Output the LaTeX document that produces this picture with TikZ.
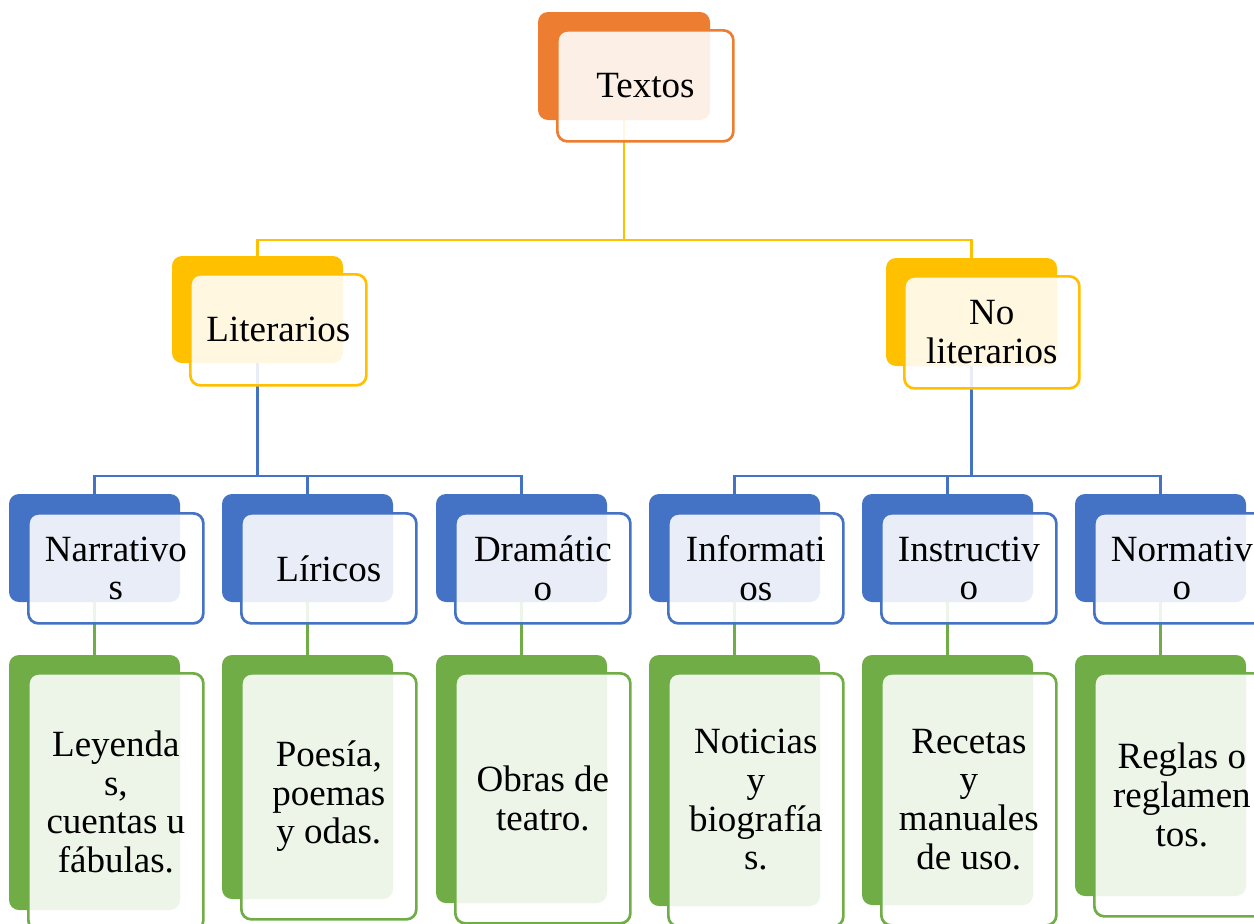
\documentclass[tikz,border=0pt]{standalone}
\usepackage{fontspec}
\setmainfont{Liberation Serif}
\usetikzlibrary{backgrounds}
\definecolor{cOr}{HTML}{ED7D31}
\definecolor{cYe}{HTML}{FFC000}
\definecolor{cBl}{HTML}{4472C4}
\definecolor{cGr}{HTML}{70AD47}
\tikzset{
  backbox/.style={fill=#1, rounded corners=10pt, anchor=north west, inner sep=0pt, outer sep=0pt},
  frontbox/.style={draw=#1, fill=white, fill opacity=0.88, text opacity=1, line width=2.7pt,
    rounded corners=10pt, anchor=north west, align=center, inner sep=0pt,
    font=\fontsize{37}{38.7}\selectfont},
  conn/.style={draw=#1, line width=2.5pt}
}
\begin{document}
\begin{tikzpicture}[x=1pt,y=-1pt]
\useasboundingbox (0,0) rectangle (1254,924);
\coordinate (lvA) at (0,240);
\coordinate (lvB) at (0,476);
% level 0
\node[backbox=cOr, minimum width=172pt, minimum height=108pt] (tB) at (538,12) {};
\node[frontbox=cOr, minimum width=176pt, minimum height=111pt] (tF) at (556,29) {Textos};
% level 1
\node[backbox=cYe, minimum width=171pt, minimum height=107pt] (litB) at (172,256) {};
\node[frontbox=cYe, minimum width=176pt, minimum height=111pt] (litF) at (189,273) {Literarios};
\node[backbox=cYe, minimum width=171pt, minimum height=108pt] (nlB) at (886,258) {};
\node[frontbox=cYe, minimum width=175pt, minimum height=112pt] (nlF) at (903,275) {No\\literarios};
% level 2 (blue)
\foreach \nm/\xx/\tx in {narB/9/{Narrativo\\s}, lirB/222/{Líricos}, draB/436/{Dramátic\\o},
                         infB/649/{Informati\\os}, insB/862/{Instructiv\\o}, norB/1075/{Normativ\\o}}{
  \node[backbox=cBl, minimum width=171pt, minimum height=108pt] (\nm) at (\xx,494) {};
  \node[frontbox=cBl, minimum width=175pt, minimum height=110pt] (\nm F) at (\xx+18,512) {\tx};
}
% level 3 (green)
\foreach \nm/\xx/\hh/\tx in {narG/9/255/{Leyenda\\s,\\cuentas u\\fábulas.}, lirG/222/244/{Poesía,\\poemas\\y odas.},
                             draG/436/248/{Obras de\\teatro.}, infG/649/251/{Noticias\\y\\biografía\\s.},
                             insG/862/250/{Recetas\\y\\manuales\\de uso.}, norG/1075/241/{Reglas o\\reglamen\\tos.}}{
  \node[backbox=cGr, minimum width=171pt, minimum height=\hh pt] (\nm) at (\xx,655) {};
  \node[frontbox=cGr, minimum width=175pt, minimum height=\hh pt+2pt] (\nm F) at (\xx+18,672) {\tx};
}
\begin{scope}[on background layer]
  \draw[conn=cYe] (tB.south) -- (tB.south |- lvA) -| (litB.north);
  \draw[conn=cYe] (tB.south) -- (tB.south |- lvA) -| (nlB.north);
  \foreach \c in {narB,lirB,draB}{
    \draw[conn=cBl] (litB.south) -- (litB.south |- lvB) -| (\c.north);
  }
  \foreach \c in {infB,insB,norB}{
    \draw[conn=cBl] (nlB.south) -- (nlB.south |- lvB) -| (\c.north);
  }
  \draw[conn=cGr] (narB.south) -- (narG.north);
  \draw[conn=cGr] (lirB.south) -- (lirG.north);
  \draw[conn=cGr] (draB.south) -- (draG.north);
  \draw[conn=cGr] (infB.south) -- (infG.north);
  \draw[conn=cGr] (insB.south) -- (insG.north);
  \draw[conn=cGr] (norB.south) -- (norG.north);
\end{scope}
\end{tikzpicture}
\end{document}
